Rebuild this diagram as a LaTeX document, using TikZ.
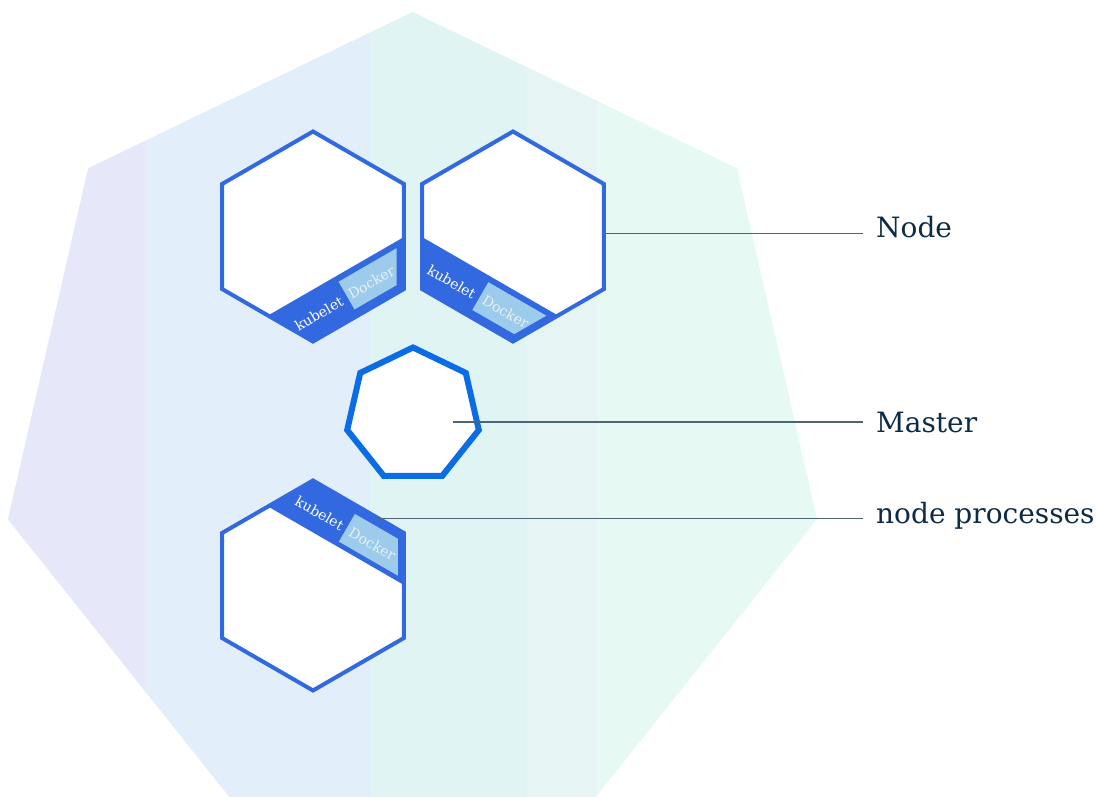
\documentclass[tikz,border=0pt]{standalone}
\usepackage{fontspec}
\setmainfont{DejaVu Serif}
\usetikzlibrary{shapes.geometric,calc}

\definecolor{hexblue}{HTML}{3369E0}
\definecolor{masterblue}{HTML}{0A6DE6}
\definecolor{dockerbox}{HTML}{9CCBEB}
\definecolor{dockertext}{HTML}{E8F0F8}
\definecolor{leader}{HTML}{4E6478}
\definecolor{labeltext}{HTML}{0D2B45}
\definecolor{bandA}{HTML}{E6E8FA}
\definecolor{bandB}{HTML}{E2EEFA}
\definecolor{bandC}{HTML}{E0F4F4}
\definecolor{bandD}{HTML}{E6F4F4}
\definecolor{bandE}{HTML}{E6F9F2}

\begin{document}
\begin{tikzpicture}[x=1pt,y=1pt,
		hex node/.style={regular polygon,regular polygon sides=6,shape border rotate=30,minimum size=210pt,inner sep=0pt,outer sep=0pt,draw=hexblue,line width=4pt,fill=white},
		master node/.style={regular polygon,regular polygon sides=7,minimum size=135pt,inner sep=0pt,outer sep=0pt,draw=masterblue,line width=6pt,fill=white},
		label node/.style={anchor=base west,inner xsep=13pt,inner ysep=0pt,text=labeltext,font=\fontsize{28}{34}\selectfont},
		lead line/.style={draw=leader,line width=1.2pt},
		kube text/.style={transform shape,inner sep=0pt,text=white,font=\fontsize{14}{16}\selectfont},
		docker text/.style={transform shape,inner sep=0pt,text=dockertext,font=\fontsize{14}{16}\selectfont}]
		\useasboundingbox (0,0) rectangle (1110,796);
		% 背景七边形
		\node[regular polygon,regular polygon sides=7,minimum size=830pt,inner sep=0pt,outer sep=0pt] (bg) at (412.5,369) {};
		\begin{scope}
			\clip (bg.corner 1) -- (bg.corner 2) -- (bg.corner 3) -- (bg.corner 4) -- (bg.corner 5) -- (bg.corner 6) -- (bg.corner 7) -- cycle;
			\foreach \xa/\xb/\c in {-10/146/bandA,145/371/bandB,370/528/bandC,527/598/bandD,597/840/bandE}
				\fill[\c] (\xa,-20) rectangle (\xb,800);
		\end{scope}
		% 节点
		\node[hex node] (node1) at (313,559.5) {};
		\node[hex node] (node2) at (513,559.5) {};
		\node[hex node] (node3) at (313,210.5) {};
		\begin{scope}
			\clip (node1.corner 1) -- (node1.corner 2) -- (node1.corner 3) -- (node1.corner 4) -- (node1.corner 5) -- (node1.corner 6) -- cycle;
			\begin{scope}[shift={(node1.-30)},rotate=30]
				\fill[hexblue] (-300,-60) rectangle (60,45);
				\fill[dockerbox] (-53,7) -- (-4.3,7) -- (14.2,39) -- (-53,39) -- cycle;
				\node[kube text] (kube1) at (-86,21) {kubelet};
				\node[docker text] (dock1) at (-25,22) {Docker};
			\end{scope}
		\end{scope}
		\begin{scope}
			\clip (node2.corner 1) -- (node2.corner 2) -- (node2.corner 3) -- (node2.corner 4) -- (node2.corner 5) -- (node2.corner 6) -- cycle;
			\begin{scope}[shift={(node2.-150)},rotate=-30]
				\fill[hexblue] (-60,-60) rectangle (300,45);
				\fill[dockerbox] (54,7) -- (102.4,7) -- (120.9,39) -- (54,39) -- cycle;
				\node[kube text] (kube2) at (22,21) {kubelet};
				\node[docker text] (dock2) at (84,22) {Docker};
			\end{scope}
		\end{scope}
		\begin{scope}
			\clip (node3.corner 1) -- (node3.corner 2) -- (node3.corner 3) -- (node3.corner 4) -- (node3.corner 5) -- (node3.corner 6) -- cycle;
			\begin{scope}[shift={(node3.90)},rotate=-30]
				\fill[hexblue] (-60,-45) rectangle (300,60);
				\fill[dockerbox] (53,-8) -- (102.7,-8) -- (121.2,-40) -- (53,-40) -- cycle;
				\node[kube text] (kube3) at (22,-25) {kubelet};
				\node[docker text] (dock3) at (83,-25) {Docker};
			\end{scope}
		\end{scope}
		% 主节点
		\node[master node] (master) at (413,381) {};
		% 标注
		\node[label node] (lbl-node) at (863,558) {Node};
		\node[label node] (lbl-master) at (863,364) {Master};
		\node[label node] (lbl-proc) at (863,273) {node processes};
		\coordinate (node-pt) at ($(node2.east)+(2,3)$);
		\coordinate (master-pt) at ($(master)+(40,-7)$);
		\coordinate (proc-pt) at ($(node3.90)!0.72!(node3.30)$);
		\draw[lead line] (node-pt) -- (node-pt -| lbl-node.west);
		\draw[lead line] (master-pt) -- (master-pt -| lbl-master.west);
		\draw[lead line] (proc-pt) -- (proc-pt -| lbl-proc.west);
\end{tikzpicture}
\end{document}
